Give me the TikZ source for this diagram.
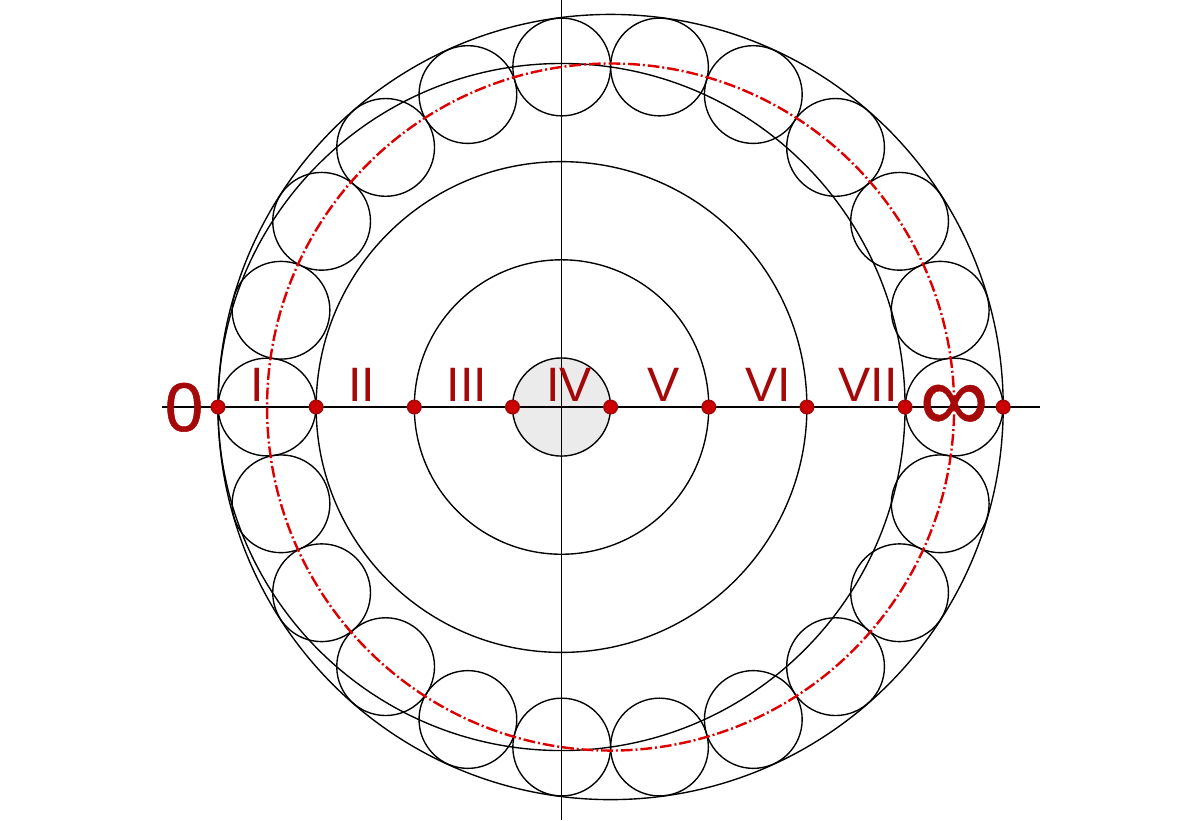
\documentclass[tikz,border=0pt]{standalone}
\usepackage{fontspec}
\setmainfont{Liberation Sans}
\usepackage{tikz}
\definecolor{numred}{RGB}{165,8,8}
\definecolor{dotred}{RGB}{204,0,0}
\definecolor{chainred}{RGB}{222,0,0}
\definecolor{coregray}{RGB}{235,235,235}
\tikzstyle{ring} = [draw, line width=0.4pt]
\tikzstyle{pt} = [circle, fill=dotred, draw=numred, line width=0.5pt, inner sep=0pt, minimum size=0.135cm]
\tikzstyle{numeral} = [text=numred, inner sep=0pt, anchor=base, font=\fontsize{14}{14}\selectfont]

\begin{document}
\begin{tikzpicture}
	\useasboundingbox (-2.221,-4.208) rectangle (10.015,4.147);
	% core and rings
	\fill[coregray] (3.5,0) circle (0.5);
	\draw[ring] (3.5,0) circle (0.5);
	\draw[ring] (3.5,0) circle (1.5);
	\draw[ring] (3.5,0) circle (2.5);
	\draw[ring] (3.5,0) circle (3.5);
	\draw[ring] (4,0) circle (4);
	% chain of 22 circles
	\foreach \k in {0,...,21}
		\draw[ring] ({4+3.5*cos(\k*360/22)},{3.5*sin(\k*360/22)}) circle ({3.5*sin(180/22)});
	% axes
	\coordinate (AX_W) at (-0.571,0);
	\coordinate (AX_E) at (8.375,0);
	\coordinate (AX_N) at (3.5,4.147);
	\coordinate (AX_S) at (3.5,-4.208);
	\draw[ring] (AX_W) -- (AX_E);
	\draw[ring] (AX_N) -- (AX_S);
	% centres of the chain
	\draw[chainred, line width=0.7pt, dash pattern=on 0.12cm off 0.03cm on 0.02cm off 0.03cm] (4,0) circle (3.5);
	% points
	\foreach \k in {0,...,8}
		\node (P\k) [pt] at (\k,0) {};

	\node (L_I) [numeral] at (0.397,0.06) {I};
	\node (L_II) [numeral] at (1.467,0.06) {II};
	\node (L_III) [numeral] at (2.537,0.06) {III};
	\node (L_IV) [numeral] at (3.576,0.06) {IV};
	\node (L_V) [numeral] at (4.544,0.06) {V};
	\node (L_VI) [numeral] at (5.604,0.06) {VI};
	\node (L_VII) [numeral] at (6.623,0.06) {VII};
	\node (ZERO) [numeral, font=\fontsize{20}{20}\selectfont\addfontfeature{FakeBold=0.8}] at (-0.346,-0.245) {0};
	\node (INF) [numeral, anchor=center, font=\fontsize{28}{28}\selectfont\addfontfeature{FakeBold=0.5}] at (7.5,-0.01) {∞};
\end{tikzpicture}
\end{document}
